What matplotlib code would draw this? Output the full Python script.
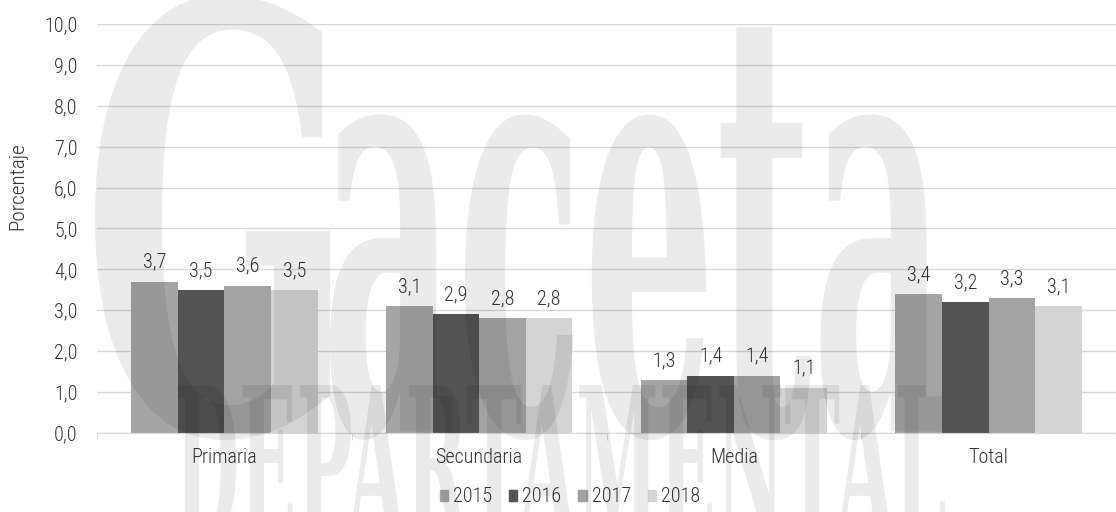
import numpy as np
import matplotlib
matplotlib.use('Agg')
import matplotlib.pyplot as plt
from matplotlib import font_manager
from matplotlib.textpath import TextPath
from matplotlib.patches import PathPatch, Patch
from matplotlib.font_manager import FontProperties
from matplotlib.transforms import Affine2D, IdentityTransform

categories = ['Primaria', 'Secundaria', 'Media', 'Total']
years = ['2015', '2016', '2017', '2018']
v2015 = [3.7, 3.1, 1.3, 3.4]
v2016 = [3.5, 2.9, 1.4, 3.2]
v2017 = [3.6, 2.8, 1.4, 3.3]
v2018 = [3.5, 2.8, 1.1, 3.1]
series = [v2015, v2016, v2017, v2018]
colors = ['#a5a5a5', '#535353', '#a3a3a3', '#d4d4d4']

# narrow font if there is one, else plain Arial metrics
installed = {f.name for f in font_manager.fontManager.ttflist}
narrow = [n for n in ['Liberation Sans Narrow', 'Arial Narrow', 'Roboto Condensed',
                      'Open Sans Condensed', 'Noto Sans Condensed', 'DejaVu Sans Condensed']
          if n in installed]
if narrow:
    plt.rcParams['font.family'] = [narrow[0], 'DejaVu Sans']
    plt.rcParams['font.weight'] = 'light'
    fs = 14.5
else:
    plt.rcParams['font.family'] = ['Liberation Sans', 'DejaVu Sans']
    fs = 12
txt = '#333333'
grid = '#d9d9d9'

fig = plt.figure(figsize=(11.16, 5.12), dpi=100)
ax = fig.add_axes([97/1116, 1-433/512, 1-97/1116, (433-24)/512])

x = np.arange(len(categories))
w = 0.183
for i, vals in enumerate(series):
    xs = x + (i - 1.5) * w
    ax.bar(xs, vals, width=w, color=colors[i], zorder=2)
    for xi, v in zip(xs, vals):
        ax.annotate(f'{v:.1f}'.replace('.', ','), (xi, v), xytext=(0, 10),
                    textcoords='offset points', ha='center', va='baseline',
                    fontsize=fs, color=txt)

ax.set_xlim(-0.5, len(categories) - 0.5)
ax.set_ylim(0, 10)
ax.set_yticks(np.arange(0, 11, 1))
ax.set_yticklabels([f'{t:.1f}'.replace('.', ',') for t in range(11)])
ax.tick_params(axis='y', length=0, pad=14, labelsize=fs, labelcolor=txt)
ax.yaxis.grid(True, color=grid, lw=1)
ax.set_axisbelow(True)

ax.set_xticks(np.arange(-0.5, len(categories)), minor=False)
ax.set_xticklabels([])
ax.set_xticks(x, minor=True)
ax.set_xticklabels(categories, minor=True)
ax.tick_params(axis='x', which='major', length=5, color=grid, direction='out')
ax.tick_params(axis='x', which='minor', length=0, pad=11, labelsize=fs, labelcolor=txt)
for s in ['top', 'right', 'left']:
    ax.spines[s].set_visible(False)
ax.spines['bottom'].set_color(grid)

fig.text(18/1116, 1-186/512, 'Porcentaje', rotation=90, ha='center', va='center',
         fontsize=fs * 1.05, color=txt)

handles = [Patch(color=c) for c in colors]
fig.legend(handles, years, loc='center', bbox_to_anchor=(570/1116, 1-497/512), ncol=4,
           frameon=False, fontsize=fs, handlelength=0.4, handleheight=0.5,
           handletextpad=0.25, columnspacing=0.85, labelcolor=txt)


# watermark, box given as (left, top, right, bottom) in image pixels
def stamp(text, box, alpha=0.08):
    tp = TextPath((0, 0), text, size=100,
                  prop=FontProperties(family='DejaVu Serif', weight='bold'))
    ext = tp.get_extents()
    x0, top, x1, bot = box
    sx = (x1 - x0) / ext.width
    sy = (bot - top) / ext.height
    tr = Affine2D().translate(-ext.x0, -ext.y0).scale(sx, sy).translate(x0, 512 - bot)
    patch = PathPatch(tr.transform_path(tp), facecolor='black', edgecolor='none',
                      alpha=alpha, transform=IdentityTransform(), zorder=10)
    fig.patches.append(patch)


stamp('G', (95, -5, 330, 440))
stamp('aceta', (330, 27, 942, 440))
stamp('DEPARTAMENTAL', (178, 385, 945, 540))

fig.savefig('out.png', dpi=100)
